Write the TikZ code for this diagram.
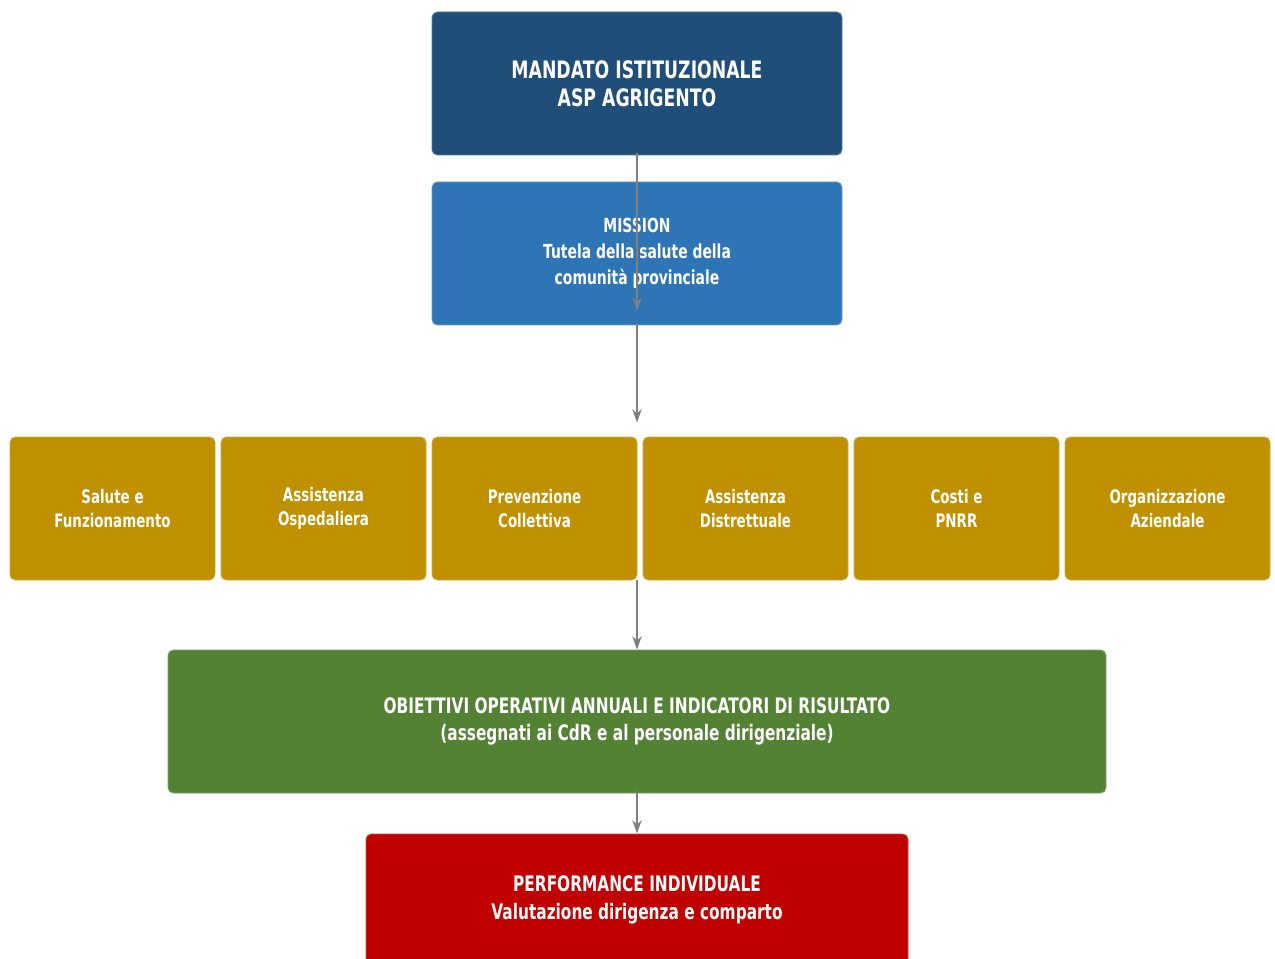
\documentclass[tikz,border=0pt]{standalone}
\usepackage{fontspec}
\setmainfont{DejaVu Sans}[FakeStretch=0.72]
\usepackage{xcolor}
\usetikzlibrary{arrows.meta}
\definecolor{mandatoblu}{HTML}{1F4E79}
\definecolor{missionblu}{HTML}{2E75B6}
\definecolor{areaoro}{HTML}{BF9000}
\definecolor{obiettiviverde}{HTML}{548235}
\definecolor{perfrosso}{HTML}{C00000}
\definecolor{freccia}{HTML}{7F7F7F}

\begin{document}
\begin{tikzpicture}[x=0.75pt,y=-0.75pt,
    box/.style={rectangle, rounded corners=4pt, fill=#1, draw=#1!75!white,
      line width=0.6pt, text=white, font=\bfseries, align=center,
      minimum height=107.25pt, inner sep=0pt},
    areabox/.style={box=areaoro, minimum width=153.75pt,
      font=\bfseries\fontsize{14}{18}\selectfont},
    freccia/.style={draw=freccia, line width=2pt,
      -{Stealth[length=10pt,width=7pt]}}]
    \useasboundingbox (0,0) rectangle (1275,959);

    \node [box=mandatoblu, minimum width=307.5pt,
      font=\bfseries\fontsize{18}{21}\selectfont] (mandato) at (637,83.5)
      {MANDATO ISTITUZIONALE\\ASP AGRIGENTO};
    \node [box=missionblu, minimum width=307.5pt,
      font=\bfseries\fontsize{14.5}{19.5}\selectfont] (mission) at (637,253.5)
      {MISSION\\Tutela della salute della\\comunità provinciale};

    \node [areabox] (salute) at (112.5,508.5) {Salute e\\Funzionamento};
    \node [areabox] (ospedaliera) at (323.5,508.5) {Assistenza\\Ospedaliera};
    \node [areabox] (prevenzione) at (534.5,508.5) {Prevenzione\\Collettiva};
    \node [areabox] (distrettuale) at (745.5,508.5) {Assistenza\\Distrettuale};
    \node [areabox] (costi) at (956.5,508.5) {Costi e\\PNRR};
    \node [areabox] (organizzazione) at (1167.5,508.5) {Organizzazione\\Aziendale};

    \node [box=obiettiviverde, minimum width=703.5pt,
      font=\bfseries\fontsize{16}{20.5}\selectfont] (obiettivi) at (637,721.5)
      {OBIETTIVI OPERATIVI ANNUALI E INDICATORI DI RISULTATO\\
       (assegnati ai CdR e al personale dirigenziale)};
    \node [box=perfrosso, minimum width=406.5pt, minimum height=99pt,
      font=\bfseries\fontsize{16}{20.5}\selectfont] (individuale) at (637,900)
      {PERFORMANCE INDIVIDUALE\\Valutazione dirigenza e comparto};

    % frecce
    \draw [freccia] ([yshift=2pt]mandato.south) -- ([yshift=11pt]mission.south);
    \draw [freccia] ([yshift=2pt]mission.south) -- ([yshift=10.5pt]mission.south |- prevenzione.north);
    \draw [freccia] (mission.south |- prevenzione.south) -- (mission.south |- obiettivi.north);
    \draw [freccia] ([yshift=2pt]obiettivi.south) -- (individuale.north);
\end{tikzpicture}
\end{document}
